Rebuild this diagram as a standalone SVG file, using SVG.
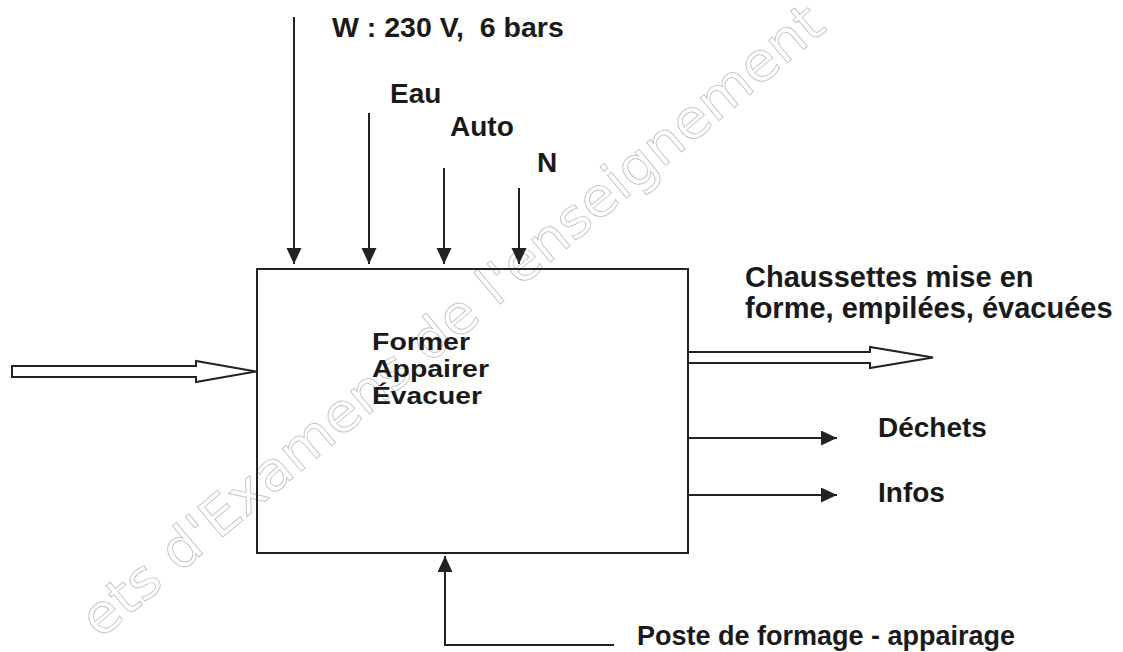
<svg xmlns="http://www.w3.org/2000/svg" width="1123" height="652" viewBox="0 0 1123 652">
<style>
.lbl{font-family:"Liberation Sans",Arial,sans-serif;font-weight:bold;fill:#1a1a1a;white-space:pre}
.ln{fill:none;stroke:#222;stroke-width:2}
.dbl{fill:#fff;stroke:#222;stroke-width:2;stroke-linejoin:miter}
.wm{font-family:"DejaVu Sans",sans-serif;font-size:54px;fill:none;stroke:#c4c4c4;stroke-width:0.9}
</style>
<defs>
<marker id="ah" markerUnits="userSpaceOnUse" markerWidth="17" markerHeight="16" refX="16" refY="7.5" orient="auto">
<path d="M0,0 L16,7.5 L0,15 z" fill="#222"/>
</marker>
</defs>
<rect width="1123" height="652" fill="#fff"/>
<g id="watermark">
<text class="wm" transform="translate(100,640) rotate(-40)" textLength="950" lengthAdjust="spacingAndGlyphs">ets d'Examens de l'enseignement</text>
</g>
<g id="process">
<rect x="257" y="269" width="431" height="284" class="ln"/>
<text class="lbl" font-size="24" x="372" y="350" textLength="98" lengthAdjust="spacingAndGlyphs">Former</text>
<text class="lbl" font-size="24" x="372" y="377" textLength="117" lengthAdjust="spacingAndGlyphs">Appairer</text>
<text class="lbl" font-size="24" x="372" y="404" textLength="110" lengthAdjust="spacingAndGlyphs">Évacuer</text>
</g>
<g id="connectors">
<line class="ln" x1="294" y1="17" x2="294" y2="264" marker-end="url(#ah)"/>
<line class="ln" x1="369" y1="113" x2="369" y2="264" marker-end="url(#ah)"/>
<line class="ln" x1="444" y1="168" x2="444" y2="264" marker-end="url(#ah)"/>
<line class="ln" x1="519" y1="188" x2="519" y2="264" marker-end="url(#ah)"/>
<line class="ln" x1="688" y1="438" x2="837" y2="438" marker-end="url(#ah)"/>
<line class="ln" x1="688" y1="495" x2="837" y2="495" marker-end="url(#ah)"/>
<polyline class="ln" points="614,645 445,645 445,556" marker-end="url(#ah)"/>
<polygon class="dbl" points="12,366 196,366 196,361 256,371.5 196,382 196,377 12,377"/>
<polygon class="dbl" points="688,352 870,352 870,347 933,357.5 870,368 870,363 688,363"/>
</g>
<g id="labels">
<text class="lbl" font-size="28.5" x="332" y="37">W : 230 V,  6 bars</text>
<text class="lbl" font-size="28" x="390" y="103">Eau</text>
<text class="lbl" font-size="28" x="450" y="136">Auto</text>
<text class="lbl" font-size="28" x="537" y="172">N</text>
<text class="lbl" font-size="29" x="745" y="287">Chaussettes mise en</text>
<text class="lbl" font-size="29" x="745" y="318">forme, empilées, évacuées</text>
<text class="lbl" font-size="28" x="878" y="437">Déchets</text>
<text class="lbl" font-size="28" x="878" y="502">Infos</text>
<text class="lbl" font-size="27" x="637" y="645">Poste de formage - appairage</text>
</g>
</svg>
